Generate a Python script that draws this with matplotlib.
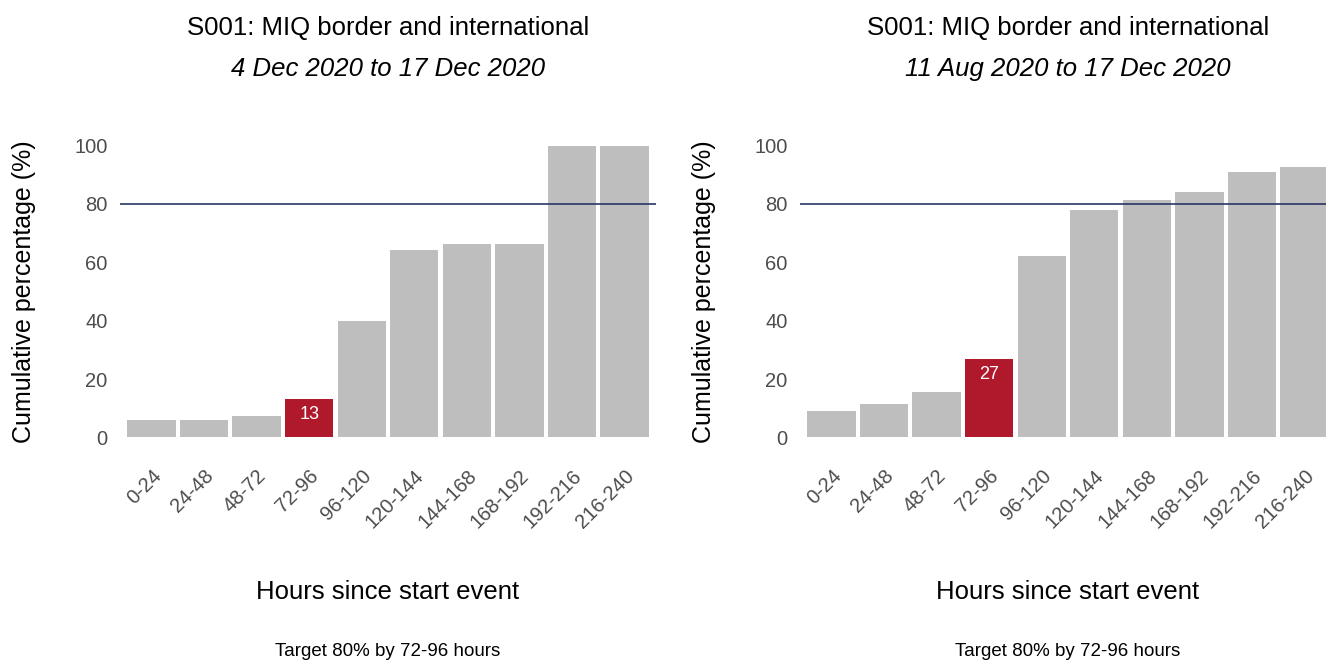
import matplotlib.pyplot as plt

plt.rcParams['font.family'] = ['Liberation Sans', 'DejaVu Sans']

# Hour bins since start event
categories = ['0-24', '24-48', '48-72', '72-96', '96-120', '120-144',
              '144-168', '168-192', '192-216', '216-240']

# Cumulative percentages
left_values = [6, 6, 7.5, 13.3, 40, 64.2, 66.2, 66.2, 100, 100]
right_values = [8.9, 11.6, 15.7, 26.8, 62.1, 77.9, 81.4, 84.2, 91.1, 92.5]

left_subtitle = '4 Dec 2020 to 17 Dec 2020'
right_subtitle = '11 Aug 2020 to 17 Dec 2020'
title = 'S001: MIQ border and international'
target = 80
target_bin = '72-96'
caption = 'Target 80% by 72-96 hours'

grey = '#bebebe'
red = '#b0182c'
navy = '#2b3566'
tick_grey = '#4d4d4d'

fig = plt.figure(figsize=(13.26, 6.62), dpi=100)

W, H = 1326, 662
panels = [
    (120, left_values, left_subtitle),
    (800, right_values, right_subtitle),
]

for x0, values, subtitle in panels:
    ax = fig.add_axes([x0 / W, (662 - 452) / H, 536 / W, 321 / H])
    x = list(range(len(categories)))
    colors = [red if c == target_bin else grey for c in categories]
    ax.bar(x, values, width=0.92, color=colors, zorder=2)
    ax.axhline(target, color=navy, lw=1.2, zorder=3)

    i = categories.index(target_bin)
    ax.annotate(f'{round(values[i])}', (i, values[i]), xytext=(0, -5),
                textcoords='offset points', ha='center', va='top',
                color='white', fontsize=13, zorder=4)

    ax.set_xlim(-0.6, len(categories) - 0.4)
    ax.set_ylim(-5, 105)
    ax.set_yticks([0, 20, 40, 60, 80, 100])
    ax.set_xticks(x)
    ax.set_xticklabels(categories, rotation=45, ha='right', va='top',
                       rotation_mode='anchor')
    ax.tick_params(axis='both', length=0, colors=tick_grey, labelsize=14.5)
    ax.tick_params(axis='y', pad=9)
    ax.tick_params(axis='x', pad=10)
    for s in ax.spines.values():
        s.set_visible(False)

    ax.set_ylabel('Cumulative percentage (%)', fontsize=18)
    ax.yaxis.set_label_coords(-0.157, 0.5)
    ax.set_xlabel('Hours since start event', fontsize=18.5)
    ax.xaxis.set_label_coords(0.5, -0.40)

    cx = x0 + 268
    fig.text(cx / W, 1 - 28 / H, title, ha='center', va='center',
             fontsize=18.5)
    fig.text(cx / W, 1 - 69 / H, subtitle, ha='center', va='center',
             fontsize=18.5, style='italic')
    fig.text(cx / W, 1 - 652 / H, caption, ha='center', va='center',
             fontsize=13.5)

plt.savefig('out.png', dpi=100)
